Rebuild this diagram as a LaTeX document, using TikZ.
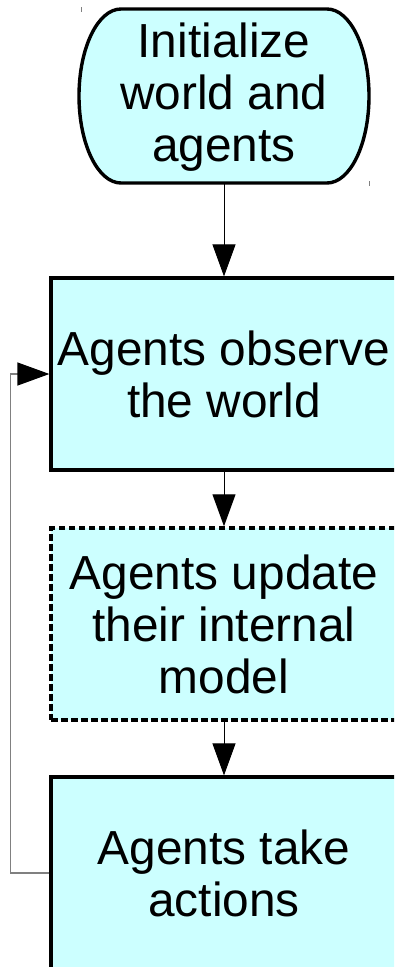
\documentclass[tikz,border=0pt]{standalone}
\usepackage{fontspec}
\setmainfont{Liberation Sans}
\usetikzlibrary{arrows.meta}
\definecolor{boxfill}{HTML}{CCFFFF}
\begin{document}
\begin{tikzpicture}[x=1pt,y=-1pt,
  txt/.style={font=\fontsize{47.8}{52}\selectfont, align=center, text=black},
  procbox/.style={draw=black, line width=3.2pt, fill=boxfill, minimum width=346pt, minimum height=192pt, inner sep=0pt},
  dashbox/.style={procbox, line width=3.4pt, dash pattern=on 6.5pt off 3.5pt},
  tip/.style={-{Triangle[length=32pt,width=23pt,color=black]}},
  flow/.style={draw=black, line width=1pt, tip},
  loopline/.style={draw=gray, line width=1.2pt, tip},
  termshape/.style={draw=black, line width=3.4pt, fill=boxfill},
]
\useasboundingbox (0,0) rectangle (394,967);
\clip (0,0) rectangle (394,967);

% terminal shape
\path[termshape] (121,9) -- (327,9)
  arc[start angle=-90, end angle=90, x radius=42, y radius=87]
  -- (121,183)
  arc[start angle=90, end angle=270, x radius=42, y radius=87] -- cycle;
\node[txt, minimum width=290pt, minimum height=174pt, inner sep=0pt] (init) at (224,97) {Initialize\\world and\\agents};

\node[procbox, txt] (observe) at (224,374) {Agents observe\\the world};
\node[dashbox, txt] (update) at (224,624) {Agents update\\their internal\\model};
\node[procbox, txt] (act) at (224,873) {Agents take\\actions};

\draw[flow] (init.south) -- (observe.north);
\draw[flow] (observe.south) -- (update.north);
\draw[flow] (update.south) -- (act.north);
\draw[loopline] (act.west) -- ++(-39,0) |- (observe.west);

% small corner marks
\fill[gray] (80.5,7) rectangle (82,12);
\fill[gray] (368.5,181) rectangle (370,186);
\end{tikzpicture}
\end{document}
